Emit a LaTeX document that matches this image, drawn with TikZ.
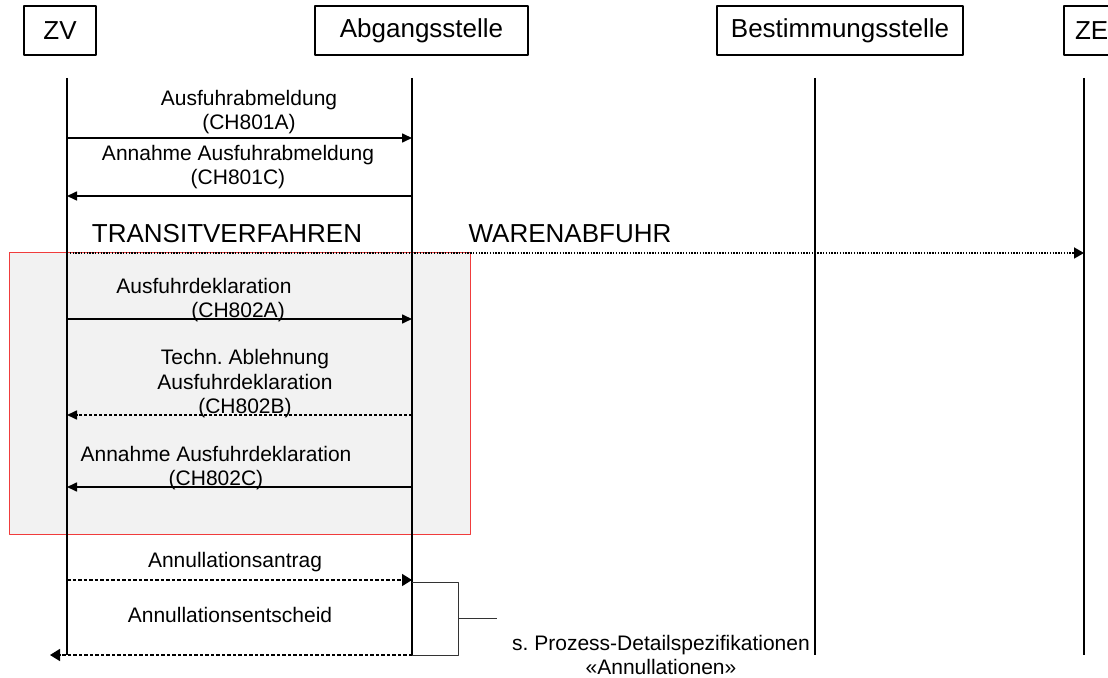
\documentclass[tikz,border=0pt]{standalone}
\usepackage{fontspec}
\setmainfont{Liberation Sans}
\usetikzlibrary{arrows.meta}
\frenchspacing

\definecolor{zonegray}{RGB}{242,242,242}
\definecolor{zonered}{RGB}{240,60,60}

\tikzset{
  actor/.style={draw, line width=1pt, minimum height=24.5pt, inner sep=0pt,
    font=\fontsize{13pt}{15pt}\selectfont},
  lifeline/.style={line width=1pt},
  msg/.style={line width=0.8pt, -{Triangle[length=5pt,width=4.5pt]}},
  cancel/.style={line width=0.8pt, dash pattern=on 1.75pt off 1pt,
    -{Triangle[length=5pt,width=6pt]}},
  bracket/.style={line width=0.5pt, black!80},
  msglabel/.style={inner sep=0pt, align=center,
    font=\fontsize{10.5pt}{12.25pt}\selectfont},
  phasetext/.style={inner sep=0pt, font=\fontsize{13pt}{15pt}\selectfont},
}

\begin{document}
\begin{tikzpicture}[
    x=0.5pt,
    y=-0.5pt,
    line join=round
  ]
  \useasboundingbox (0,0) rectangle (1108,678);
  \clip (0,0) rectangle (1108,678);

  % grey zone behind the declaration messages
  \draw[fill=zonegray, draw=zonered, line width=0.5pt]
    (9.5,252.5) rectangle (470.5,534.5);

  % actors
  \node[actor, minimum width=36pt] (zv) at (60,30.5) {ZV};
  \node[actor, minimum width=106.5pt] (ab) at (421.5,30.5) {Abgangsstelle};
  \node[actor, minimum width=123pt] (bs) at (840,30.5) {Bestimmungsstelle};
  \node[actor, anchor=west, inner xsep=5.5pt] (ze) at (1063,30.5) {ZE};

  % lifelines
  \foreach \n/\x in {zv/67, ab/412, bs/815, ze/1084} {
    \coordinate (\n-top) at (\x,78);
    \coordinate (\n-end) at (\x,655);
    \draw[lifeline] (\n-top) -- (\n-end);
  }

  % message levels
  \foreach \m/\y in {m1/138, m2/196, m3/253, m4/319, m5/415, m6/487, m7/580, m8/655} {
    \coordinate (zv-\m) at (67,\y);
    \coordinate (ab-\m) at (412,\y);
  }
  \coordinate (ze-m3) at (1084,253);
  \coordinate (out-m8) at (50,655);

  \draw[msg] (zv-m1) -- (ab-m1);
  \draw[msg] (ab-m2) -- (zv-m2);
  \draw[line width=0.9pt, dash pattern=on 0.7pt off 0.7pt,
    -{Triangle[length=5pt,width=5.5pt]}] (zv-m3) -- (ze-m3);
  \draw[msg] (zv-m4) -- (ab-m4);
  \draw[msg, dash pattern=on 1.5pt off 1pt] (ab-m5) -- (zv-m5);
  \draw[msg] (ab-m6) -- (zv-m6);
  \draw[cancel] (zv-m7) -- (ab-m7);
  \draw[cancel] (ab-m8) -- (out-m8);

  % bracket to the annulment reference
  \coordinate (ab-br) at (412,582);
  \coordinate (br-a) at (458,582);
  \coordinate (br-b) at (458,655);
  \coordinate (br-mid) at (458,618);
  \coordinate (br-end) at (497,618);
  \draw[bracket] (ab-br) -- (br-a) -- (br-b) -- (ab-m8);
  \draw[bracket] (br-mid) -- (br-end);

  % texts
  \node[msglabel] (l-m1) at (249,112) {Ausfuhrabmeldung\\(CH801A)};
  \node[msglabel] (l-m2) at (238,167) {Annahme Ausfuhrabmeldung\\(CH801C)};
  \node[phasetext, anchor=base] (transit) at (227,243) {TRANSITVERFAHREN};
  \node[phasetext, anchor=base] (abfuhr) at (570,243) {WARENABFUHR};
  \node[msglabel, align=left, anchor=west] (l-m4) at (116,300)
    {Ausfuhrdeklaration\\\hspace*{37.5pt}(CH802A)};
  \node[msglabel] (l-m5) at (245,384)
    {Techn. Ablehnung\\Ausfuhrdeklaration\\(CH802B)};
  \node[msglabel] (l-m6) at (216,468) {Annahme Ausfuhrdeklaration\\(CH802C)};
  \node[msglabel, anchor=base] (l-m7) at (235,567.5) {Annullationsantrag};
  \node[msglabel, anchor=base] (l-m8) at (230,622.5) {Annullationsentscheid};
  \node[msglabel, font=\fontsize{10.5pt}{12pt}\selectfont] (l-ref) at (661,655)
    {s. Prozess-Detailspezifikationen\\«Annullationen»};
\end{tikzpicture}
\end{document}
